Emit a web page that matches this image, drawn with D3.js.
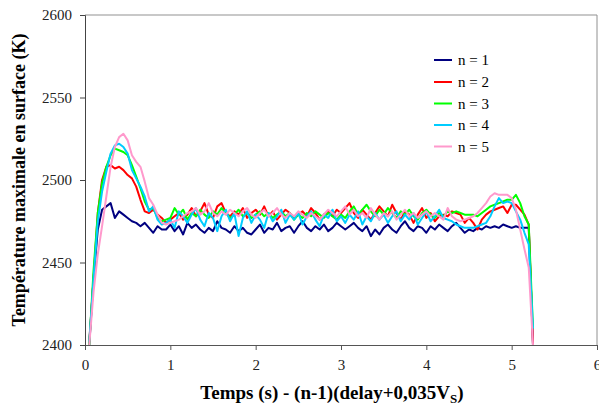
<!DOCTYPE html>
<html>
<head>
<meta charset="utf-8">
<script src="https://cdn.jsdelivr.net/npm/d3@7"></script>
<style>
  html, body { margin: 0; padding: 0; background: #fff; }
  svg { display: block; }
</style>
</head>
<body>
<div id="chart"></div>
<script>
// ---- Data ----
const times = [
  0.05,0.10,0.15,0.20,0.25,0.30,0.35,0.40,0.45,0.50,
  0.55,0.60,0.65,0.70,0.75,0.80,0.85,0.90,0.95,1.00,
  1.05,1.10,1.15,1.20,1.25,1.30,1.35,1.40,1.45,1.50,
  1.55,1.60,1.65,1.70,1.75,1.80,1.85,1.90,1.95,2.00,
  2.05,2.10,2.15,2.20,2.25,2.30,2.35,2.40,2.45,2.50,
  2.55,2.60,2.65,2.70,2.75,2.80,2.85,2.90,2.95,3.00,
  3.05,3.10,3.15,3.20,3.25,3.30,3.35,3.40,3.45,3.50,
  3.55,3.60,3.65,3.70,3.75,3.80,3.85,3.90,3.95,4.00,
  4.05,4.10,4.15,4.20,4.25,4.30,4.35,4.40,4.45,4.50,
  4.55,4.60,4.65,4.70,4.75,4.80,4.85,4.90,4.95,5.00,
  5.05,5.10,5.15,5.20,5.25
];

const n1 = [
  2400,2440,2470,2482,2484,2486,2477,2481,2479,2477,
  2475,2474,2472,2474,2471,2468,2472,2470,2470,2473,
  2469,2472,2467,2474,2471,2473,2470,2468,2471,2469,
  2475,2471,2470,2468,2472,2469,2471,2468,2467,2470,
  2473,2468,2471,2470,2474,2469,2471,2472,2468,2472,
  2475,2471,2469,2472,2470,2473,2469,2471,2474,2472,
  2470,2472,2474,2471,2469,2472,2466,2470,2467,2471,
  2473,2470,2468,2472,2475,2471,2469,2472,2471,2468,
  2472,2470,2473,2471,2469,2472,2474,2471,2468,2470,
  2469,2471,2470,2472,2471,2472,2471,2473,2472,2471,
  2472,2471,2471,2471,2400
];
const n2 = [
  2402,2440,2480,2500,2508,2509,2507,2508,2506,2503,
  2501,2496,2488,2481,2480,2482,2479,2477,2474,2476,
  2478,2480,2476,2479,2483,2478,2481,2486,2479,2477,
  2484,2486,2480,2478,2481,2479,2483,2477,2480,2482,
  2479,2484,2478,2481,2476,2479,2482,2480,2477,2479,
  2481,2478,2483,2480,2476,2479,2481,2478,2482,2480,
  2483,2486,2480,2477,2482,2479,2476,2480,2484,2481,
  2478,2485,2480,2476,2481,2479,2474,2479,2483,2477,
  2480,2475,2478,2479,2478,2481,2480,2479,2474,2477,
  2474,2470,2476,2479,2481,2482,2483,2484,2480,2485,
  2485,2482,2479,2473,2400
];
const n3 = [
  2400,2445,2480,2498,2508,2515,2519,2518,2517,2515,
  2509,2502,2495,2487,2482,2483,2477,2475,2476,2477,
  2483,2479,2482,2476,2480,2478,2482,2479,2477,2481,
  2479,2483,2480,2477,2479,2482,2478,2480,2477,2479,
  2481,2478,2480,2477,2479,2481,2478,2480,2476,2479,
  2477,2480,2478,2481,2479,2477,2480,2478,2476,2479,
  2477,2481,2484,2479,2482,2485,2481,2478,2482,2479,
  2483,2480,2477,2481,2479,2482,2478,2476,2480,2482,
  2479,2477,2480,2478,2481,2480,2481,2480,2479,2479,
  2479,2478,2480,2482,2484,2485,2486,2487,2488,2488,
  2491,2486,2478,2473,2410
];
const n4 = [
  2402,2440,2475,2493,2505,2516,2521,2522,2520,2516,
  2506,2501,2496,2490,2481,2484,2476,2473,2474,2476,
  2471,2481,2478,2474,2479,2483,2476,2472,2480,2477,
  2469,2478,2482,2475,2480,2466,2477,2481,2474,2479,
  2476,2471,2480,2475,2478,2482,2474,2479,2476,2480,
  2473,2478,2481,2476,2472,2479,2477,2482,2475,2478,
  2474,2479,2476,2481,2473,2478,2475,2480,2476,2479,
  2474,2478,2481,2475,2479,2476,2480,2473,2477,2481,
  2475,2478,2482,2477,2476,2475,2473,2472,2471,2471,
  2471,2472,2473,2474,2478,2484,2489,2486,2487,2486,
  2481,2476,2468,2461,2410
];
const n5 = [
  2400,2432,2455,2472,2490,2508,2520,2526,2528,2524,
  2515,2511,2508,2499,2489,2485,2479,2474,2473,2474,
  2475,2476,2478,2480,2481,2483,2479,2481,2486,2480,
  2478,2481,2479,2482,2480,2478,2481,2483,2479,2477,
  2480,2482,2478,2480,2483,2479,2477,2480,2478,2481,
  2479,2477,2480,2478,2476,2479,2482,2480,2478,2481,
  2484,2479,2482,2478,2480,2477,2483,2479,2476,2480,
  2478,2481,2476,2479,2482,2478,2480,2477,2479,2481,
  2478,2480,2478,2476,2483,2478,2476,2475,2476,2477,
  2478,2480,2483,2486,2490,2492,2491,2491,2491,2489,
  2482,2470,2458,2447,2400
];

const seriesNames = ["n = 1", "n = 2", "n = 3", "n = 4", "n = 5"];
const seriesValues = [n1, n2, n3, n4, n5];
const seriesColors = ["#000080", "#ff0000", "#00ff00", "#00ccff", "#ff99cc"];

const xTicks = [0, 1, 2, 3, 4, 5, 6];
const yTicks = [2400, 2450, 2500, 2550, 2600];

// ---- Chart ----
const W = 599, H = 407;
const svg = d3.select("#chart").append("svg").attr("width", W).attr("height", H);
const serif = "'Liberation Serif', 'Times New Roman', serif";

const x = d3.scaleLinear().domain([0, 6]).range([85, 597]);
const y = d3.scaleLinear().domain([2400, 2600]).range([345, 15]);

// frame (top and right)
svg.append("line").attr("x1", x(0)).attr("x2", x(6)).attr("y1", y(2600)).attr("y2", y(2600))
  .attr("stroke", "#c8c8c8").attr("stroke-width", 2);
svg.append("line").attr("x1", x(6)).attr("x2", x(6)).attr("y1", y(2600)).attr("y2", y(2400))
  .attr("stroke", "#909090").attr("stroke-width", 1);

// lines
const line = d3.line()
  .x((d, i) => x(times[i]))
  .y(d => y(d));

const clip = svg.append("clipPath").attr("id", "clip").append("rect")
  .attr("x", x(0)).attr("y", y(2600)).attr("width", x(6) - x(0)).attr("height", y(2400) - y(2600));

const g = svg.append("g").attr("clip-path", "url(#clip)");
seriesValues.forEach((vals, k) => {
  g.append("path").datum(vals)
    .attr("d", line)
    .attr("fill", "none")
    .attr("stroke", seriesColors[k])
    .attr("stroke-width", 2)
    .attr("stroke-linejoin", "round");
});

// axes
const xAxis = d3.axisBottom(x).tickValues(xTicks).tickSize(5).tickPadding(9).tickFormat(d3.format("d"));
const gx = svg.append("g").attr("transform", `translate(0,${y(2400)})`).call(xAxis);
gx.select(".domain").attr("stroke", "#555");
gx.selectAll(".tick line").attr("stroke", "#555");
gx.selectAll("text").attr("font-family", serif).attr("font-size", 15).attr("fill", "#222");

const yAxis = d3.axisLeft(y).tickValues(yTicks).tickSize(5).tickPadding(8).tickFormat(d3.format("d"));
const gy = svg.append("g").attr("transform", `translate(${x(0)},0)`).call(yAxis);
gy.select(".domain").attr("stroke", "#444");
gy.selectAll(".tick line").attr("stroke", "#444");
gy.selectAll("text").attr("font-family", serif).attr("font-size", 15).attr("fill", "#222");

// axis titles
svg.append("text")
  .attr("transform", `translate(25,180) rotate(-90)`)
  .attr("text-anchor", "middle")
  .attr("font-family", serif).attr("font-weight", "bold").attr("font-size", 18)
  .attr("fill", "#000")
  .text("Température maximale en surface (K)");

const xt = svg.append("text")
  .attr("x", 332).attr("y", 399)
  .attr("text-anchor", "middle")
  .attr("font-family", serif).attr("font-weight", "bold").attr("font-size", 19)
  .attr("fill", "#000");
xt.append("tspan").text("Temps (s) - (n-1)(delay+0,035V");
xt.append("tspan").attr("font-size", 13).attr("dy", 4).text("S");
xt.append("tspan").attr("dy", -4).text(")");

// legend
const legY = [60, 82, 103.5, 125, 146.5];
seriesNames.forEach((name, k) => {
  svg.append("line").attr("x1", 434).attr("x2", 452).attr("y1", legY[k]).attr("y2", legY[k])
    .attr("stroke", seriesColors[k]).attr("stroke-width", 2);
  svg.append("text").attr("x", 458).attr("y", legY[k] + 5)
    .attr("font-family", serif).attr("font-size", 15).attr("fill", "#000")
    .text(name);
});
</script>
</body>
</html>
